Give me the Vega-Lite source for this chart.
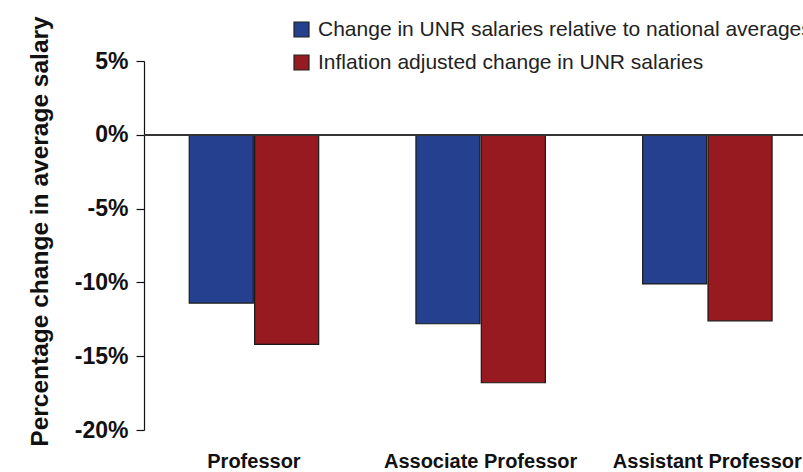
{
  "$schema": "https://vega.github.io/schema/vega-lite/v6.json",
  "autosize": {"type": "none"},
  "padding": {"left": 144, "top": 61, "right": 0, "bottom": 42},
  "width": 659,
  "height": 369,
  "config": {"view": {"stroke": null}, "font": "Liberation Sans"},
  "data": {
    "values": [
      {"rank": "Professor", "series": "Change in UNR salaries relative to national averages", "value": -11.4},
      {"rank": "Professor", "series": "Inflation adjusted change in UNR salaries", "value": -14.2},
      {"rank": "Associate Professor", "series": "Change in UNR salaries relative to national averages", "value": -12.8},
      {"rank": "Associate Professor", "series": "Inflation adjusted change in UNR salaries", "value": -16.8},
      {"rank": "Assistant Professor", "series": "Change in UNR salaries relative to national averages", "value": -10.1},
      {"rank": "Assistant Professor", "series": "Inflation adjusted change in UNR salaries", "value": -12.6}
    ]
  },
  "layer": [
    {
      "mark": {"type": "bar", "stroke": "#1a1a1a", "strokeWidth": 1.2},
      "encoding": {
        "x": {
          "field": "rank", "type": "nominal",
          "sort": ["Professor", "Associate Professor", "Assistant Professor"],
          "scale": {"paddingInner": 0.429, "paddingOuter": 0.168, "align": 0.594},
          "axis": {"title": null, "labelAngle": 0, "domain": false, "ticks": false, "labelFontSize": 20, "labelFontWeight": "bold", "labelColor": "#111", "labelPadding": 21, "labelLimit": 400, "labelDx": 4}
        },
        "xOffset": {
          "field": "series", "type": "nominal",
          "sort": ["Change in UNR salaries relative to national averages", "Inflation adjusted change in UNR salaries"],
          "scale": {"paddingInner": 0.02}
        },
        "y": {
          "field": "value", "type": "quantitative",
          "scale": {"domain": [-20, 5], "nice": false},
          "axis": {
            "values": [5, 0, -5, -10, -15, -20],
            "labelExpr": "datum.value + '%'",
            "grid": false, "tickSize": 8, "domainColor": "#111", "tickColor": "#111", "domainWidth": 1.2, "tickWidth": 1.2,
            "labelFontSize": 23, "labelFontWeight": "bold", "labelColor": "#111", "labelPadding": 8,
            "title": "Percentage change in average salary", "titleFontSize": 24.5, "titleFontWeight": "bold", "titleColor": "#111",
            "titleX": -104, "titleY": 170, "titleAngle": -90, "titleAlign": "center", "titleBaseline": "middle"
          }
        },
        "y2": {"datum": 0},
        "color": {
          "field": "series", "type": "nominal",
          "scale": {"domain": ["Change in UNR salaries relative to national averages", "Inflation adjusted change in UNR salaries"], "range": ["#24408E", "#961A1F"]},
          "legend": {
            "orient": "none", "legendX": 147, "legendY": -42, "title": null,
            "symbolType": "square", "symbolSize": 225, "symbolStrokeColor": "#222", "symbolStrokeWidth": 1.2,
            "labelFontSize": 21, "labelColor": "#222", "labelLimit": 800, "labelOffset": 6, "rowPadding": 11,
            "encode": {"symbols": {"update": {"stroke": {"value": "#222"}, "strokeWidth": {"value": 1.2}}}}
          }
        }
      }
    },
    {
      "mark": {"type": "rule", "color": "#333", "strokeWidth": 1.5},
      "encoding": {"y": {"datum": 0}}
    }
  ]
}
